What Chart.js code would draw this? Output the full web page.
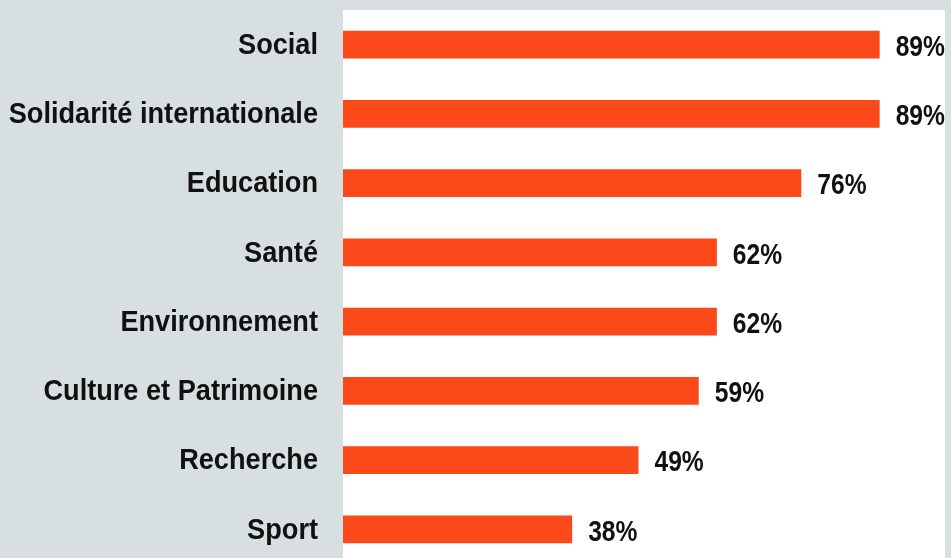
<!DOCTYPE html>
<html>
<head>
<meta charset="utf-8">
<script src="https://cdn.jsdelivr.net/npm/chart.js@4"></script>
<style>
html,body{margin:0;padding:0;background:#d8dfe1;overflow:hidden;}
#wrap{position:relative;width:951px;height:564px;}
</style>
</head>
<body>
<div id="wrap"><canvas id="c" width="951" height="564"></canvas></div>
<script>
const categories = ["Social","Solidarité internationale","Education","Santé","Environnement","Culture et Patrimoine","Recherche","Sport"];
const values = [89,89,76,62,62,59,49,38];
const valueLabels = ["89%","89%","76%","62%","62%","59%","49%","38%"];

const FONT = '"Liberation Sans", Arial, sans-serif';

const plotBg = {
  id:'plotBg',
  beforeDraw(chart){
    const {ctx, chartArea:a} = chart;
    ctx.save();
    ctx.fillStyle = '#ffffff';
    ctx.fillRect(a.left, a.top, a.right - a.left - 1, a.bottom - a.top);
    ctx.restore();
  }
};
const catLabels = {
  id:'catLabels',
  afterDraw(chart){
    const {ctx} = chart;
    const y = chart.scales.y;
    ctx.save();
    ctx.font = 'bold 30px ' + FONT;
    ctx.fillStyle = '#111111';
    ctx.textBaseline = 'middle';
    ctx.textAlign = 'right';
    const sx = 0.905;
    categories.forEach((lab,i)=>{
      const py = y.getPixelForTick(i) + 1;
      ctx.save();
      ctx.translate(318, py);
      ctx.scale(sx, 1);
      ctx.fillText(lab, 0, 0);
      ctx.restore();
    });
    ctx.restore();
  }
};
const valLabels = {
  id:'valLabels',
  afterDatasetsDraw(chart){
    const {ctx} = chart;
    const meta = chart.getDatasetMeta(0);
    ctx.save();
    ctx.font = 'bold 30px ' + FONT;
    ctx.fillStyle = '#111111';
    ctx.textBaseline = 'middle';
    ctx.textAlign = 'left';
    const sx = 0.82;
    meta.data.forEach((bar,i)=>{
      ctx.save();
      ctx.translate(bar.x + 16, bar.y + 3);
      ctx.scale(sx, 1);
      ctx.fillText(valueLabels[i], 0, 0);
      ctx.restore();
    });
    ctx.restore();
  }
};

new Chart(document.getElementById('c'), {
  type:'bar',
  data:{ labels:categories, datasets:[{ data:values, backgroundColor:'#fb4919', barPercentage:0.404, categoryPercentage:1 }]},
  options:{
    indexAxis:'y',
    responsive:false,
    animation:false,
    layout:{padding:{top:10,left:0,right:5,bottom:0}},
    plugins:{legend:{display:false},tooltip:{enabled:false}},
    scales:{
      x:{display:false,min:0,max:100},
      y:{
        grid:{display:false}, border:{display:false},
        afterFit(s){ s.width = 343; s.paddingTop = 0; s.paddingBottom = 0; },
        ticks:{ display:false }
      }
    }
  },
  plugins:[plotBg, valLabels, catLabels]
});
</script>
</body>
</html>
